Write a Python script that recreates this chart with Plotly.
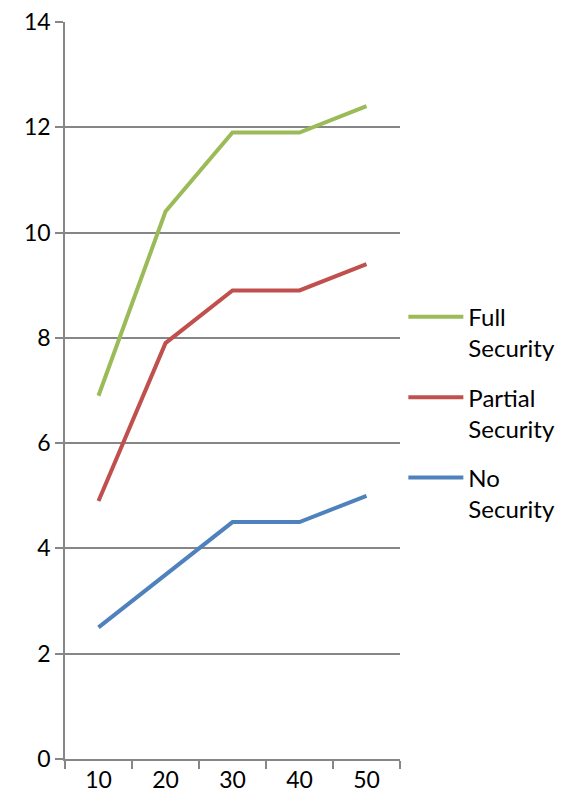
import plotly.graph_objects as go

categories = ["10", "20", "30", "40", "50"]
full_security = [6.9, 10.4, 11.9, 11.9, 12.4]
partial_security = [4.9, 7.9, 8.9, 8.9, 9.4]
no_security = [2.5, 3.5, 4.5, 4.5, 5.0]

series = [
    ("Full<br>Security", full_security, "#9BBB59"),
    ("Partial<br>Security", partial_security, "#C0504D"),
    ("No<br>Security", no_security, "#4F81BD"),
]

fig = go.Figure()
for i, (name, vals, color) in enumerate(series):
    fig.add_trace(go.Scatter(x=categories, y=vals, mode="lines", name=name,
                             legendgroup=f"g{i}",
                             line=dict(color=color, width=4)))

axis_color = "#868686"
fig.update_layout(
    width=565, height=804,
    margin=dict(l=65, r=165, t=22, b=45, autoexpand=False),
    paper_bgcolor="white", plot_bgcolor="white",
    font=dict(family="Lato, Open Sans, sans-serif", size=23, color="black"),
    legend=dict(x=1.01, y=0.63, xanchor="left", yanchor="top",
                tracegroupgap=15, itemwidth=55, valign="top",
                font=dict(size=24)),
    xaxis=dict(type="category", range=[-0.5, 4.5], tickson="boundaries",
               ticks="outside", ticklen=8, tickcolor=axis_color, tickwidth=1.5,
               showline=True, linecolor=axis_color, linewidth=1.5,
               showgrid=False, zeroline=False, tickfont=dict(size=23),
               automargin=False),
    yaxis=dict(range=[0, 14], dtick=2, ticks="outside", ticklen=8,
               tickcolor=axis_color, tickwidth=1.5,
               showline=True, linecolor=axis_color, linewidth=1.5,
               showgrid=True, gridcolor=axis_color, gridwidth=1.5,
               zeroline=False, tickfont=dict(size=23), automargin=False),
)
fig.write_html("out.html")
